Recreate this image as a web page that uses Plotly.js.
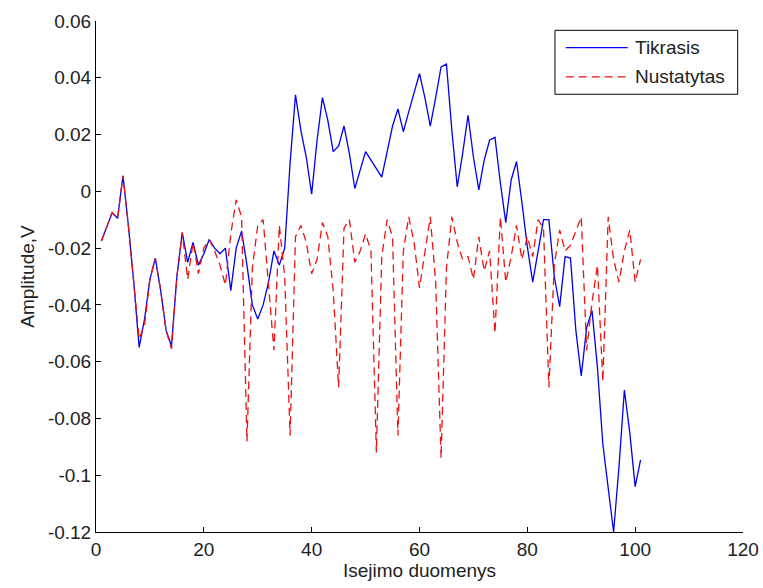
<!DOCTYPE html>
<html>
<head>
<meta charset="utf-8">
<script src="https://cdn.plot.ly/plotly-3.0.1.min.js"></script>
<style>html,body{margin:0;padding:0;background:#fff;}#chart{width:763px;height:588px;}</style>
</head>
<body>
<div id="chart"></div>
<script>
// sample index 1..101
const sampleIndex = Array.from({length: 101}, (_, i) => i + 1);

const tikrasis = [
  -0.0175, -0.0125, -0.0075, -0.0095, 0.0055, -0.012, -0.032, -0.055, -0.045, -0.031,
  -0.0235, -0.035, -0.049, -0.0545, -0.030, -0.0145, -0.025, -0.018, -0.026, -0.022,
  -0.017, -0.020, -0.022, -0.020, -0.035, -0.020, -0.014, -0.026, -0.040, -0.045,
  -0.040, -0.032, -0.021, -0.026, -0.020, 0.010, 0.034, 0.0215, 0.012, -0.001,
  0.018, 0.033, 0.025, 0.014, 0.016, 0.023, 0.0133, 0.001, 0.008, 0.014,
  0.011, 0.008, 0.005, 0.014, 0.023, 0.029, 0.021, 0.028, 0.035, 0.0415,
  0.033, 0.023, 0.033, 0.0438, 0.0448, 0.0215, 0.0016, 0.0133, 0.0268, 0.0121,
  0.0005, 0.011, 0.018, 0.019, 0.003, -0.011, 0.004, 0.0105, -0.004, -0.0195,
  -0.032, -0.0207, -0.010, -0.010, -0.030, -0.0406, -0.023, -0.0235, -0.049, -0.065,
  -0.048, -0.042, -0.062, -0.089, -0.105, -0.120, -0.097, -0.070, -0.085, -0.104,
  -0.0946
];

const nustatytas = [
  -0.0175, -0.0125, -0.0075, -0.0095, 0.0055, -0.012, -0.032, -0.052, -0.047, -0.031,
  -0.0235, -0.035, -0.049, -0.0555, -0.030, -0.0145, -0.031, -0.018, -0.029, -0.020,
  -0.017, -0.021, -0.026, -0.033, -0.015, -0.003, -0.009, -0.088, -0.027, -0.012,
  -0.010, -0.032, -0.056, -0.012, -0.030, -0.086, -0.016, -0.012, -0.018, -0.029,
  -0.024, -0.011, -0.016, -0.035, -0.069, -0.013, -0.010, -0.025, -0.021, -0.015,
  -0.021, -0.092, -0.023, -0.010, -0.016, -0.086, -0.021, -0.009, -0.018, -0.034,
  -0.021, -0.009, -0.032, -0.094, -0.027, -0.009, -0.018, -0.024, -0.023, -0.031,
  -0.016, -0.028, -0.021, -0.050, -0.009, -0.032, -0.023, -0.012, -0.024, -0.016,
  -0.023, -0.010, -0.013, -0.069, -0.026, -0.0136, -0.021, -0.019, -0.014, -0.009,
  -0.056, -0.039, -0.026, -0.067, -0.009, -0.024, -0.032, -0.021, -0.0136, -0.032,
  -0.024
];

const seriesNames = ['Tikrasis', 'Nustatytas'];
const seriesColors = ['#0000ee', '#ee1111'];
const seriesDash = ['solid', '8px,5px'];

const xTickVals = [0, 20, 40, 60, 80, 100, 120];
const xTickText = ['0', '20', '40', '60', '80', '100', '120'];
const yTickVals = [0.06, 0.04, 0.02, 0, -0.02, -0.04, -0.06, -0.08, -0.1, -0.12];
const yTickText = ['0.06', '0.04', '0.02', '0', '-0.02', '-0.04', '-0.06', '-0.08', '-0.1', '-0.12'];

const font = {family: 'Liberation Sans, Arial, sans-serif', size: 19, color: '#222'};

const traces = [
  {x: sampleIndex, y: tikrasis, type: 'scatter', mode: 'lines', name: seriesNames[0],
   line: {color: seriesColors[0], width: 1.3, dash: seriesDash[0]}},
  {x: sampleIndex, y: nustatytas, type: 'scatter', mode: 'lines', name: seriesNames[1],
   line: {color: seriesColors[1], width: 1.3, dash: seriesDash[1]}}
];

// hand-drawn MATLAB-style legend box (paper coordinates of the plot area)
const legBox = {x0: 0.7094, x1: 0.9918, y0: 0.8566, y1: 0.9818};
const legRows = [0.9480, 0.8905];
const legLine = {x0: 0.7260, x1: 0.8218};
const legTextX = 0.8300;

const shapes = [
  {type: 'rect', xref: 'paper', yref: 'paper', x0: legBox.x0, x1: legBox.x1, y0: legBox.y0, y1: legBox.y1,
   line: {color: '#000', width: 1}, fillcolor: '#fff', layer: 'above'}
];
const annotations = [];
seriesNames.forEach((name, i) => {
  shapes.push({type: 'line', xref: 'paper', yref: 'paper', x0: legLine.x0, x1: legLine.x1,
               y0: legRows[i], y1: legRows[i], layer: 'above',
               line: {color: seriesColors[i], width: 1.3, dash: seriesDash[i]}});
  annotations.push({xref: 'paper', yref: 'paper', x: legTextX, y: legRows[i], xanchor: 'left', yanchor: 'middle',
                    text: name, showarrow: false, font: font});
});

const layout = {
  width: 763, height: 588,
  margin: {l: 96, r: 20, t: 21, b: 56, pad: 0},
  paper_bgcolor: '#fff', plot_bgcolor: '#fff',
  font: font,
  showlegend: false,
  shapes: shapes,
  annotations: annotations,
  xaxis: {range: [0, 120], tickvals: xTickVals, ticktext: xTickText,
          ticks: 'inside', ticklen: 5, tickcolor: '#000', showline: true, linecolor: '#000', linewidth: 1,
          showgrid: false, zeroline: false, mirror: false, automargin: false,
          title: {text: 'Isejimo duomenys', font: font, standoff: 4}},
  yaxis: {range: [-0.12, 0.06], tickvals: yTickVals, ticktext: yTickText,
          ticks: 'inside', ticklen: 5, tickcolor: '#000', showline: true, linecolor: '#000', linewidth: 1,
          showgrid: false, zeroline: false, mirror: false, automargin: false,
          title: {text: 'Amplitude,V', font: font, standoff: 8}}
};

Plotly.newPlot('chart', traces, layout, {displayModeBar: false, staticPlot: true});
</script>
</body>
</html>
